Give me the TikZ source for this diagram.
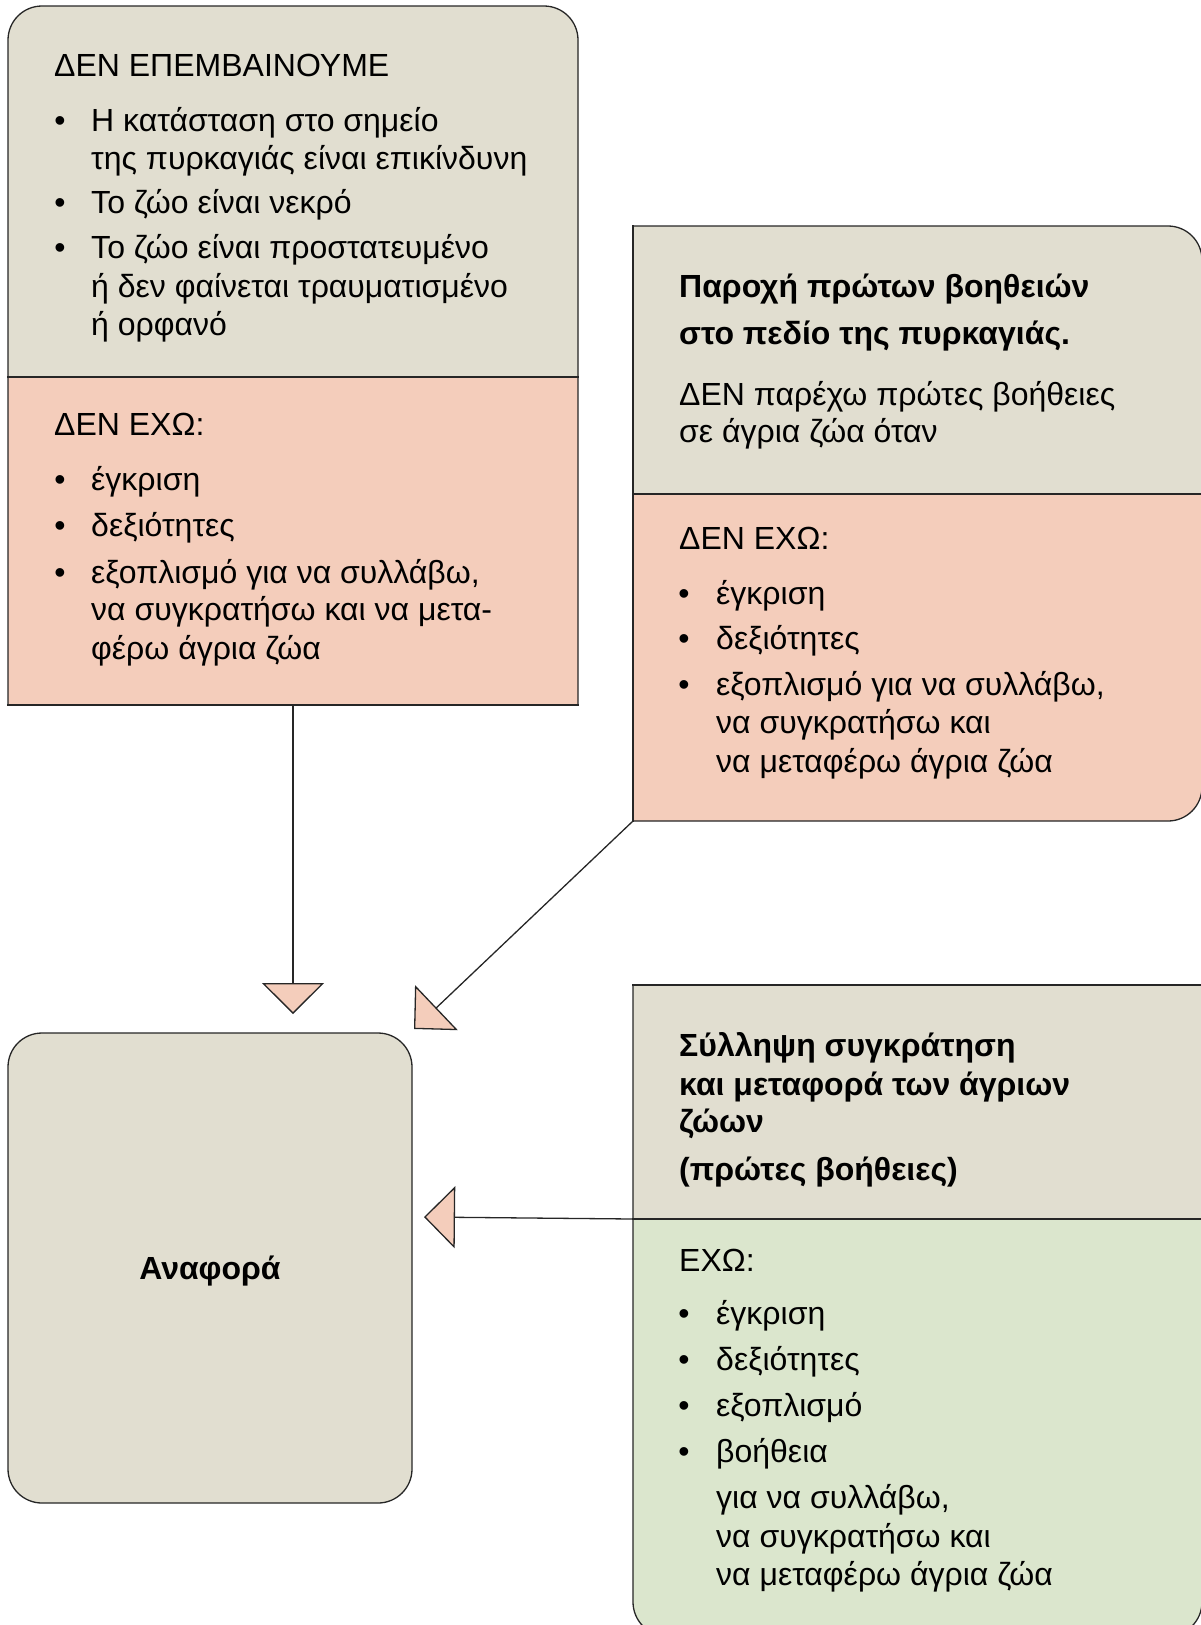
\documentclass[tikz,border=0pt]{standalone}
\usepackage{fontspec}
\setmainfont{Liberation Sans}
\usetikzlibrary{arrows.meta}
\definecolor{tanbg}{HTML}{E1DED0}
\definecolor{salmonbg}{HTML}{F4CDBB}
\definecolor{greenbg}{HTML}{DBE6CD}
\tikzset{
  txt/.style={anchor=base west, inner sep=0pt, font=\fontsize{32}{38}\selectfont},
  btxt/.style={txt, font=\fontsize{32}{38}\selectfont\bfseries},
  dot/.style={anchor=base, inner sep=0pt, font=\fontsize{32}{38}\selectfont},
  edge/.style={line width=1.3pt, draw=black!85, line cap=rect},
  arr/.style={line width=1.3pt, draw=black!85, -{Triangle[length=31pt, width=62pt, fill=salmonbg]}}
}
\begin{document}
\begin{tikzpicture}[x=1pt, y=-1pt, rounded corners=34pt]
  \useasboundingbox[sharp corners] (0,0) rectangle (1200,1625);
  % box 1
  \fill[salmonbg] (8,705) -- (8,6) -- (578,6) -- (578,705);
  \fill[tanbg] (8,377) -- (8,6) -- (578,6) -- (578,377);
  \draw[edge] (8,705) -- (8,6) -- (578,6) -- (578,705);
  \draw[edge] (8,705) -- (578,705) (8,377) -- (578,377);
  % box 2
  \fill[salmonbg] (633,226) -- (1202,226) -- (1202,821) -- (633,821);
  \begin{scope}
    \clip[sharp corners] (600,200) rectangle (1210,494);
    \fill[tanbg] (633,226) -- (1202,226) -- (1202,821) -- (633,821);
  \end{scope}
  \draw[edge] (633,226) -- (1202,226) -- (1202,821) -- (633,821);
  \draw[edge] (633,226) -- (633,821) (633,494) -- (1202,494);
  % box 3
  \fill[greenbg] (1202,985) -- (1202,1636) -- (633,1636) -- (633,985);
  \fill[tanbg, sharp corners] (633,985) rectangle (1202,1219);
  \draw[edge] (1202,985) -- (1202,1636) -- (633,1636) -- (633,985);
  \draw[edge] (633,985) -- (1202,985) (633,1219) -- (1202,1219);

  \node[draw=black!85, line width=1.3pt, fill=tanbg, text depth=0pt,
        minimum width=404pt, minimum height=470pt, font=\fontsize{32}{38}\selectfont\bfseries]
        (report) at (210,1268) {Αναφορά};

  \node[txt] (h1) at (54,76) {ΔΕΝ ΕΠΕΜΒΑΙΝΟΥΜΕ};
  \foreach \y/\t [count=\i] in {131/Η κατάσταση στο σημείο, 169/της πυρκαγιάς είναι επικίνδυνη,
      213/Το ζώο είναι νεκρό, 258/Το ζώο είναι προστατευμένο, 297/ή δεν φαίνεται τραυματισμένο, 335/ή ορφανό}
    \node[txt] (la\i) at (91,\y) {\t};
  \foreach \y [count=\i] in {131,213,258}
    \node[dot] (da\i) at (60,\y) {•};
  \node[txt] (h2) at (54,435) {ΔΕΝ ΕΧΩ:};
  \foreach \y/\t [count=\i] in {490/έγκριση, 536/δεξιότητες, 583/{εξοπλισμό για να συλλάβω,},
      620/να συγκρατήσω και να μετα-, 659/φέρω άγρια ζώα}
    \node[txt] (lb\i) at (91,\y) {\t};
  \foreach \y [count=\i] in {490,536,583}
    \node[dot] (db\i) at (60,\y) {•};

  \node[btxt] (p1) at (679,297) {Παροχή πρώτων βοηθειών};
  \node[btxt] (p2) at (679,344) {στο πεδίο της πυρκαγιάς.};
  \node[txt] (p3) at (679,405) {ΔΕΝ παρέχω πρώτες βοήθειες};
  \node[txt] (p4) at (679,442) {σε άγρια ζώα όταν};
  \node[txt] (h3) at (679,549) {ΔΕΝ ΕΧΩ:};
  \foreach \y/\t [count=\i] in {604/έγκριση, 649/δεξιότητες, 695/{εξοπλισμό για να συλλάβω,},
      733/να συγκρατήσω και, 772/να μεταφέρω άγρια ζώα}
    \node[txt] (lc\i) at (716,\y) {\t};
  \foreach \y [count=\i] in {604,649,695}
    \node[dot] (dc\i) at (684,\y) {•};

  \foreach \y/\t [count=\i] in {1056/Σύλληψη συγκράτηση, 1095/και μεταφορά των άγριων, 1132/ζώων, 1180/(πρώτες βοήθειες)}
    \node[btxt] (q\i) at (679,\y) {\t};
  \node[txt] (h4) at (679,1271) {ΕΧΩ:};
  \foreach \y/\t [count=\i] in {1324/έγκριση, 1370/δεξιότητες, 1416/εξοπλισμό, 1462/βοήθεια,
      1508/{για να συλλάβω,}, 1547/να συγκρατήσω και, 1585/να μεταφέρω άγρια ζώα}
    \node[txt] (ld\i) at (716,\y) {\t};
  \foreach \y [count=\i] in {1324,1370,1416,1462}
    \node[dot] (dd\i) at (684,\y) {•};

  \coordinate (out1) at (293,705);
  \coordinate (in1) at (293,1014);
  \coordinate (out2) at (633,821);
  \coordinate (in2) at (414,1029);
  \coordinate (out3) at (633,1219);
  \coordinate (in3) at (424,1217);
  \draw[arr, sharp corners] (out1) -- (in1);
  \draw[arr, sharp corners] (out2) -- (in2);
  \draw[arr, sharp corners] (out3) -- (in3);
\end{tikzpicture}
\end{document}
